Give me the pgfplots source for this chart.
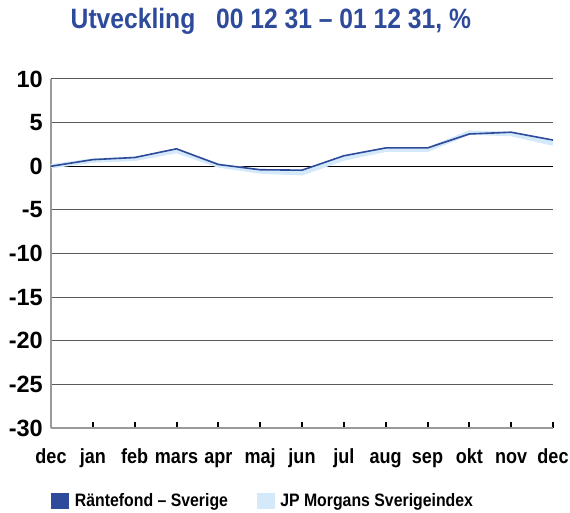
\documentclass[border=0pt]{standalone}
\usepackage{fontspec}
\setmainfont{Liberation Sans}[FakeStretch=0.88]
\newfontfamily\wideface{Liberation Sans}
\usepackage{pgfplots}
\pgfplotsset{compat=1.18}
\definecolor{dblue}{HTML}{2E4A9A}
\definecolor{lblue}{HTML}{D4E9F9}
\begin{document}
\begin{tikzpicture}
\useasboundingbox (0,0) rectangle (570pt,512pt);
\begin{axis}[
  at={(51pt,84pt)}, anchor=south west,
  scale only axis, width=502pt, height=349pt,
  xmin=0, xmax=12, ymin=-30, ymax=10,
  xtick={0,...,12},
  xticklabels={dec,jan,feb,mars,apr,maj,jun,jul,aug,sep,okt,nov,dec},
  ytick={-30,-25,...,10},
  axis x line*=bottom, axis y line*=left,
  axis line style={gray!80, line width=1.2pt, -},
  x axis line style={-}, y axis line style={-},
  ymajorgrids, major grid style={gray!70!black, line width=1pt},
  extra y ticks={0}, extra y tick labels={},
  extra y tick style={grid=major, major grid style={black, line width=1.2pt}},
  xtick style={black, line width=2pt},
  tick align=inside, major tick length=6pt,
  ytick style={draw=none},
  font=\bfseries,
  /pgf/number format/assume math mode=true,
  yticklabel style={font=\wideface\fontsize{23.5}{23.5}\selectfont\bfseries, anchor=east, inner sep=0pt, xshift=-8pt},
  xticklabel style={font=\fontsize{20.5}{20.5}\selectfont\bfseries, anchor=base, inner sep=0pt, yshift=-35pt},
  title={Utveckling\hspace{0.5em} 00 12 31 -- 01 12 31, \%},
  title style={font=\fontsize{28}{28}\selectfont\bfseries, color=dblue, anchor=base, at={(0.438,1)}, yshift=44pt, inner sep=0pt},
  legend columns=2,
  legend style={draw=none, fill=none, at={(0,-0.181)}, anchor=north west, inner sep=0pt,
    font=\fontsize{18}{18}\selectfont\bfseries, column sep=0pt,
    nodes={inner sep=2.5pt},
    /tikz/every even column/.append style={column sep=26pt}},
  legend cell align=left,
  legend image code/.code={\fill[#1, draw=none] (0pt,-7.5pt) rectangle (18pt,8.5pt); \path (21pt,0pt);},
]
\addplot[lblue, line width=4.5pt, forget plot] coordinates {
(0,0) (1,0.65) (2,0.85) (3,1.75) (4,0.1) (5,-0.6) (6,-0.8) (7,0.9) (8,1.9) (9,1.9) (10,3.85) (11,3.7) (12,2.6)};
\addplot[dblue, line width=1.6pt, forget plot] coordinates {
(0,0) (1,0.76) (2,1.0) (3,2.0) (4,0.2) (5,-0.4) (6,-0.45) (7,1.2) (8,2.1) (9,2.1) (10,3.7) (11,3.9) (12,3.0)};
\addlegendimage{dblue}
\addlegendentry{Räntefond -- Sverige}
\addlegendimage{lblue}
\addlegendentry{JP Morgans Sverigeindex}
\end{axis}
\end{tikzpicture}
\end{document}
